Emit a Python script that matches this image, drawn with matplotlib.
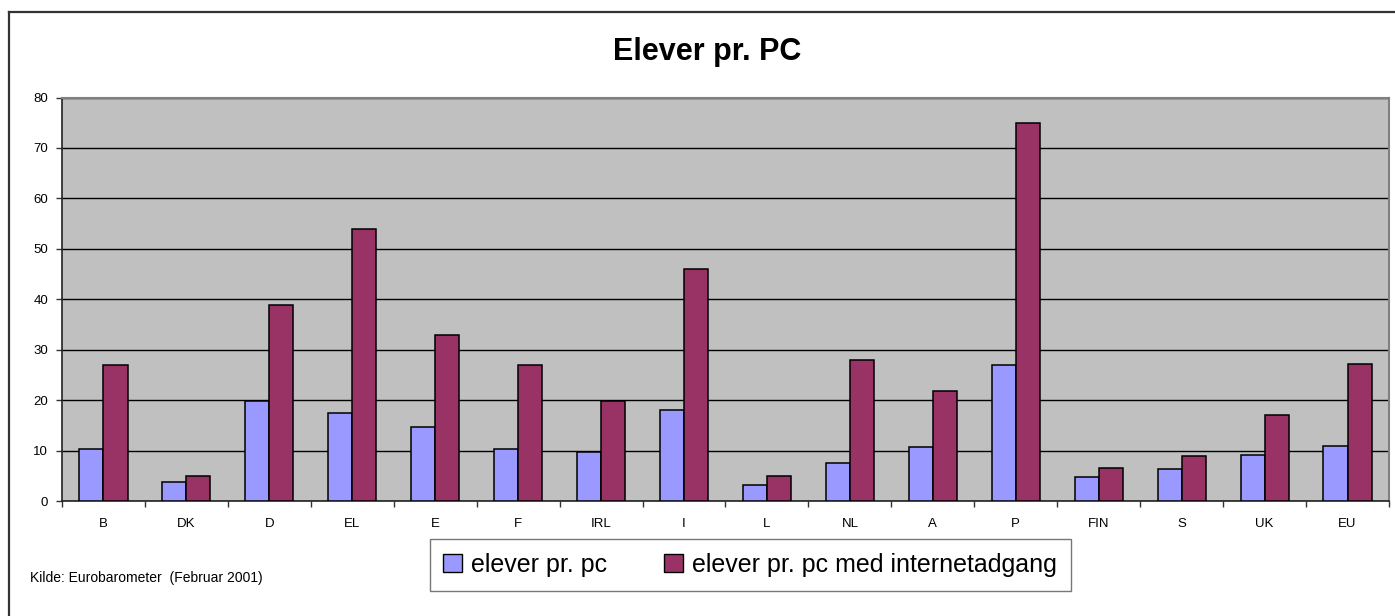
import matplotlib
matplotlib.use("Agg")
import matplotlib.pyplot as plt
import numpy as np
from matplotlib.lines import Line2D
from matplotlib.patches import Patch

categories = ["B", "DK", "D", "EL", "E", "F", "IRL", "I", "L", "NL", "A", "P", "FIN", "S", "UK", "EU"]
elever_pr_pc = [10.4, 3.8, 19.9, 17.4, 14.6, 10.4, 9.7, 18.0, 3.2, 7.6, 10.7, 26.9, 4.7, 6.3, 9.1, 11.0]
elever_pr_pc_internet = [26.9, 5.0, 38.9, 54.0, 33.0, 26.9, 19.9, 46.0, 5.0, 27.9, 21.8, 74.9, 6.5, 8.9, 17.1, 27.2]
series_labels = ["elever pr. pc", "elever pr. pc med internetadgang"]
title = "Elever pr. PC"
source = "Kilde: Eurobarometer  (Februar 2001)"

plt.rcParams['font.family'] = ['Liberation Sans', 'DejaVu Sans']

W, H = 1395, 616
fig = plt.figure(figsize=(W / 100, H / 100), dpi=100)
ax = fig.add_axes([62 / W, 1 - 501 / H, (1389 - 62) / W, (501 - 97.5) / H])

x = np.arange(len(categories))
bw = 0.29
c1, c2 = "#9999FF", "#993366"
ax.set_facecolor("#C0C0C0")
ax.bar(x - bw / 2, elever_pr_pc, bw, color=c1, edgecolor="black", linewidth=1.1, zorder=3)
ax.bar(x + bw / 2, elever_pr_pc_internet, bw, color=c2, edgecolor="black", linewidth=1.1, zorder=3)

ax.set_xlim(-0.5, len(categories) - 0.5)
ax.set_ylim(0, 80)
ax.set_yticks(range(0, 81, 10))
ax.yaxis.grid(True, color="black", linewidth=1.0, zorder=1)
ax.set_axisbelow(True)

ax.set_xticks(x)
ax.set_xticklabels(categories, fontsize=9.5)
ax.tick_params(axis="x", which="major", length=0, pad=12)
ax.set_xticks(np.arange(-0.5, len(categories)), minor=True)
ax.tick_params(axis="x", which="minor", length=4, width=1, direction="out", color="#333333")
ax.tick_params(axis="y", length=4, width=1, direction="out", pad=6, labelsize=9.5, color="#333333")

for s in ["top", "right"]:
    ax.spines[s].set_color("#808080")
    ax.spines[s].set_linewidth(1.5)
for s in ["left", "bottom"]:
    ax.spines[s].set_color("#222222")
    ax.spines[s].set_linewidth(1.2)

fig.text(707 / W, 1 - 52 / H, title, ha="center", va="center", fontsize=22, fontweight="bold")
fig.text(30 / W, 1 - 578 / H, source, ha="left", va="center", fontsize=10)

handles = [Patch(facecolor=c1, edgecolor="black", linewidth=1.0),
           Patch(facecolor=c2, edgecolor="black", linewidth=1.0)]
leg = fig.legend(handles, series_labels, loc="center", bbox_to_anchor=(750 / W, 1 - 565 / H),
                 ncol=2, fontsize=18, frameon=True, fancybox=False, shadow=False,
                 handlelength=0.75, handleheight=0.75, handletextpad=0.35, columnspacing=2.3,
                 borderpad=0.55, edgecolor="#555555")
leg.get_frame().set_linewidth(1.0)

fig.add_artist(Line2D([9 / W, 9 / W], [0, 1 - 12 / H], transform=fig.transFigure, color="#333333", linewidth=1.6))
fig.add_artist(Line2D([9 / W, 1], [1 - 12 / H, 1 - 12 / H], transform=fig.transFigure, color="#333333", linewidth=1.6))

fig.savefig("out.png", dpi=100)
